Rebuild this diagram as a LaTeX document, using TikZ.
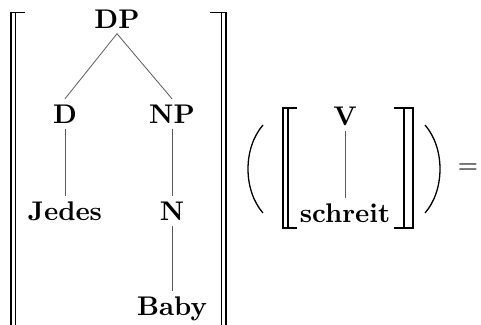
\documentclass[tikz,border=0pt]{standalone}
\usepackage{fontspec}
\newfontfamily\tenbx{lmroman10-bold.otf}
\newfontfamily\tenrm{lmroman10-regular.otf}
\begin{document}
\begin{tikzpicture}[x=1pt,y=-1pt,
  lab/.style={font=\tenbx\fontsize{27}{32}\selectfont, inner sep=5.5pt, anchor=base},
  edge/.style={draw=black!65, line width=0.8pt},
  brk/.style={line width=1.3pt, line cap=butt},
  par/.style={line width=1.3pt}]
\useasboundingbox (0,0) rectangle (481,324);
\begin{scope}
\clip (0,0) rectangle (481,324);
% big left bracket
\draw[brk] (11,340) -- (11,12.5) -- (25,12.5);
\draw[brk] (15.5,340) -- (15.5,13);
% big right bracket
\draw[brk] (226,340) -- (226,12.5) -- (210,12.5);
\draw[brk] (221.5,340) -- (221.5,13);
\end{scope}
% tree
\node[lab] (DP) at (117,28) {DP};
\node[lab] (D) at (65,123) {D};
\node[lab] (NP) at (172,123) {NP};
\node[lab] (Jedes) at (65,220) {Jedes};
\node[lab] (N) at (172,220) {N};
\node[lab] (Baby) at (172,315) {Baby};
\draw[edge] (DP.south) -- (D.north);
\draw[edge] (DP.south) -- (NP.north);
\draw[edge] (D.south) -- (Jedes.north);
\draw[edge] (NP.south) -- (N.north);
\draw[edge] (N.south) -- (Baby.north);
% left paren
\draw[par] (263,125) .. controls (243,148) and (243,190) .. (263,213);
% small bracket left
\draw[brk] (297,108) -- (283,108) -- (283,228) -- (297,228);
\draw[brk] (288,108.5) -- (288,227.5);
% small tree
\node[lab] (V) at (345,125) {V};
\node[lab] (schreit) at (345,222) {schreit};
\draw[edge] (V.south) -- (schreit.north);
% small bracket right
\draw[brk] (394,108) -- (413,108) -- (413,228) -- (394,228);
\draw[brk] (404,108.5) -- (404,227.5);
% right paren
\draw[par] (425,125) .. controls (445,148) and (445,190) .. (425,213);
% equals
\node[font=\tenrm\fontsize{26}{30}\selectfont, inner sep=0pt] (eq) at (468,169) {=};
\end{tikzpicture}
\end{document}
